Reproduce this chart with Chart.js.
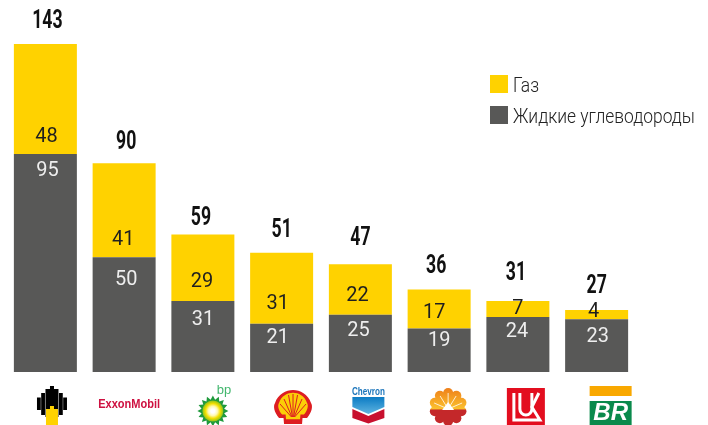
<!DOCTYPE html>
<html>
<head>
<meta charset="utf-8">
<script src="https://cdn.jsdelivr.net/npm/chart.js@4"></script>
<style>
  body { margin: 0; background: #fff; }
  canvas { display: block; }
</style>
</head>
<body>
<canvas id="reservesChart" width="708" height="425"></canvas>
<script>
const companies = ['Роснефть', 'ExxonMobil', 'bp', 'Shell', 'Chevron', 'PetroChina', 'ЛУКОЙЛ', 'Petrobras'];
const liquids = [95, 50, 31, 21, 25, 19, 24, 23];
const gas = [48, 41, 29, 31, 22, 17, 7, 4];
const totals = [143, 90, 59, 51, 47, 36, 31, 27];

// hand nudges so the labels sit where they do in the picture
const gasLift = [17, 18, 19, 20, 19, 16, 8, 7];
const gasShift = [1, -1, -1, -4, -3, -5, 0, -3];
const liquidDrop = [17, 22, 19, 14, 16, 12, 15, 18];
const liquidShift = [2, 2, 0, -4, -2, 0, -1, 1];
const totalLift = [22, 21, 16, 22, 26, 23, 27, 24];
const totalShift = [2, 2, -2, 0, 0, -3, -2, 0];
const logoShift = [6.6, 5, 10, 11.4, 8, 9, 8, 14];

const GAS_COLOR = '#FFD200';
const LIQUID_COLOR = '#585857';

// no condensed face is installed, so squeeze the text with maxWidth
function squeezedText(ctx, text, x, y, squeeze) {
    const label = String(text);
    ctx.fillText(label, x, y, ctx.measureText(label).width * squeeze);
}

function rect(ctx, color, x, y, w, h) {
    ctx.fillStyle = color;
    ctx.fillRect(x, y, w, h);
}

function poly(ctx, color, pts) {
    ctx.fillStyle = color;
    ctx.beginPath();
    pts.forEach((p, i) => i ? ctx.lineTo(p[0], p[1]) : ctx.moveTo(p[0], p[1]));
    ctx.closePath();
    ctx.fill();
}

function drawRosneft(ctx) {
    rect(ctx, '#000', -2, -21, 4, 4);
    rect(ctx, '#000', -6.5, -18, 13, 28);
    [-1, 1].forEach(s => {
        rect(ctx, '#000', s > 0 ? 7 : -10.8, -14, 3.8, 22);
        rect(ctx, '#000', s > 0 ? 11.2 : -15, -9.5, 3.8, 12.5);
    });
    rect(ctx, GAS_COLOR, -6, 2, 12, 16);
    rect(ctx, GAS_COLOR, -2, -1, 4, 3);
}

function drawExxon(ctx) {
    ctx.fillStyle = '#CE1141';
    ctx.font = 'bold 12px "Liberation Sans", sans-serif';
    ctx.textAlign = 'center';
    ctx.textBaseline = 'middle';
    ctx.fillText('ExxonMobil', 0, -2, 62);
}

function drawBp(ctx) {
    ctx.fillStyle = '#43B76E';
    ctx.font = '13px "Liberation Sans", sans-serif';
    ctx.textAlign = 'center';
    ctx.textBaseline = 'middle';
    ctx.fillText('bp', 11, -17);
    const pts = [];
    for (let i = 0; i < 32; i++) {
        const a = i * Math.PI / 16;
        const r = i % 2 ? 11.5 : 15.5;
        pts.push([Math.cos(a) * r, 4 + Math.sin(a) * r]);
    }
    poly(ctx, '#1F9A3C', pts);
    const sun = ctx.createRadialGradient(0, 4, 2, 0, 4, 11);
    sun.addColorStop(0, '#fff');
    sun.addColorStop(0.3, '#FFF9B0');
    sun.addColorStop(0.6, '#F5E000');
    sun.addColorStop(1, '#7DBB1F');
    ctx.fillStyle = sun;
    ctx.beginPath();
    ctx.arc(0, 4, 10.5, 0, Math.PI * 2);
    ctx.fill();
}

function shellPath(ctx, k) {
    ctx.beginPath();
    ctx.moveTo(-9 * k, 17 * k);
    ctx.lineTo(9 * k, 17 * k);
    ctx.lineTo(9.5 * k, 11 * k);
    ctx.lineTo(14 * k, 11 * k);
    ctx.bezierCurveTo(19 * k, 5 * k, 20 * k, -1 * k, 18 * k, -4 * k);
    ctx.bezierCurveTo(15 * k, -13 * k, 7 * k, -17 * k, 0, -17 * k);
    ctx.bezierCurveTo(-7 * k, -17 * k, -15 * k, -13 * k, -18 * k, -4 * k);
    ctx.bezierCurveTo(-20 * k, -1 * k, -19 * k, 5 * k, -14 * k, 11 * k);
    ctx.lineTo(-9.5 * k, 11 * k);
    ctx.closePath();
}

function drawShell(ctx) {
    ctx.fillStyle = '#DD1D21';
    shellPath(ctx, 1);
    ctx.fill();
    ctx.fillStyle = '#FBCE07';
    ctx.save();
    ctx.translate(0, -1);
    shellPath(ctx, 0.78);
    ctx.fill();
    ctx.restore();
    ctx.strokeStyle = '#DD1D21';
    ctx.lineWidth = 1;
    [[-13, -3], [-9, -8], [-4.5, -12], [0, -13], [4.5, -12], [9, -8], [13, -3]].forEach(p => {
        ctx.beginPath();
        ctx.moveTo(p[0] * 0.12, 10);
        ctx.lineTo(p[0], p[1]);
        ctx.stroke();
    });
}

function drawChevron(ctx) {
    ctx.fillStyle = '#1B75BB';
    ctx.font = 'bold 10px "Liberation Sans", sans-serif';
    ctx.textAlign = 'center';
    ctx.textBaseline = 'middle';
    ctx.fillText('Chevron', 0, -15, 33);
    const blue = ctx.createLinearGradient(0, -10, 0, 7);
    blue.addColorStop(0, '#0B7BC4');
    blue.addColorStop(1, '#5FB4E0');
    poly(ctx, blue, [[-16, -10], [16, -10], [16, 0], [0, 7], [-16, 0]]);
    poly(ctx, '#C8102E', [[-16, 2], [0, 9], [16, 2], [16, 11], [0, 16.5], [-16, 11]]);
}

function drawCnpc(ctx) {
    const fill = ctx.createLinearGradient(0, -19, 0, 18);
    fill.addColorStop(0, '#EE7F1A');
    fill.addColorStop(0.56, '#FBC02D');
    fill.addColorStop(0.6, '#C4282A');
    fill.addColorStop(1, '#C4282A');
    ctx.fillStyle = fill;
    ctx.beginPath();
    ctx.arc(0, 0, 15, 0, Math.PI * 2);
    ctx.fill();
    for (let i = 0; i < 10; i++) {
        const a = i * Math.PI / 5 + Math.PI / 10;
        ctx.beginPath();
        ctx.arc(Math.cos(a) * 14, Math.sin(a) * 14, 5, 0, Math.PI * 2);
        ctx.fill();
    }
    ctx.strokeStyle = '#fff';
    ctx.lineWidth = 0.8;
    [[-14, -4], [-8, -11], [0, -14], [8, -11], [14, -4]].forEach(p => {
        ctx.beginPath();
        ctx.moveTo(0, 2);
        ctx.lineTo(p[0], p[1]);
        ctx.stroke();
    });
    poly(ctx, '#fff', [[-6, 3], [0, -5], [6, 3]]);
}

function drawLukoil(ctx) {
    rect(ctx, '#E30E1F', -19, -19, 38, 37);
    ctx.strokeStyle = '#fff';
    ctx.lineWidth = 3;
    ctx.beginPath();
    ctx.moveTo(-12, -14);
    ctx.lineTo(-12, 13);
    ctx.lineTo(14, 13);
    ctx.lineTo(6, 0);
    ctx.lineTo(13, -14);
    ctx.stroke();
    ctx.beginPath();
    ctx.moveTo(-6, -14);
    ctx.lineTo(-6, 2);
    ctx.arc(0, 2, 6, Math.PI, 0, true);
    ctx.lineTo(6, -14);
    ctx.stroke();
}

function drawPetrobras(ctx) {
    rect(ctx, '#F9A800', -21, -21, 42, 10);
    rect(ctx, '#0A8A4C', -21, -6, 42, 24);
    ctx.fillStyle = '#fff';
    ctx.font = 'italic bold 24px "Liberation Sans", sans-serif';
    ctx.textAlign = 'center';
    ctx.textBaseline = 'middle';
    ctx.fillText('BR', 0, 6);
}

const logoPainters = [drawRosneft, drawExxon, drawBp, drawShell, drawChevron, drawCnpc, drawLukoil, drawPetrobras];

const reservesLabels = {
    id: 'reservesLabels',
    afterDatasetsDraw(chart) {
        const ctx = chart.ctx;
        const liquidBars = chart.getDatasetMeta(0).data;
        const gasBars = chart.getDatasetMeta(1).data;
        ctx.save();
        ctx.textAlign = 'center';
        ctx.textBaseline = 'middle';
        companies.forEach((name, i) => {
            ctx.font = '400 21px Roboto, sans-serif';
            ctx.fillStyle = '#eeeeee';
            squeezedText(ctx, liquids[i], liquidBars[i].x + liquidShift[i], liquidBars[i].y + liquidDrop[i], 0.95);
            ctx.fillStyle = '#1f1f1f';
            squeezedText(ctx, gas[i], gasBars[i].x + gasShift[i], gasBars[i].base - gasLift[i], 0.95);
            ctx.font = 'bold 26px Roboto, sans-serif';
            ctx.fillStyle = '#111';
            squeezedText(ctx, totals[i], gasBars[i].x + totalShift[i], gasBars[i].y - totalLift[i], 0.68);
        });
        ctx.restore();
    }
};

const reservesLogos = {
    id: 'reservesLogos',
    afterDraw(chart) {
        const ctx = chart.ctx;
        const x = chart.scales.x;
        logoPainters.forEach((paint, i) => {
            ctx.save();
            ctx.translate(x.getPixelForValue(i) + logoShift[i], chart.chartArea.bottom + 35);
            paint(ctx);
            ctx.restore();
        });
    }
};

// legend sits inside the plot at the top right, so it is drawn by hand
const reservesLegend = {
    id: 'reservesLegend',
    afterDraw(chart) {
        const ctx = chart.ctx;
        ctx.save();
        ctx.font = '300 21px Roboto, sans-serif';
        ctx.textAlign = 'left';
        ctx.textBaseline = 'middle';
        [1, 0].forEach((index, row) => {
            const dataset = chart.data.datasets[index];
            const top = 75 + row * 31;
            ctx.fillStyle = dataset.backgroundColor;
            ctx.fillRect(490, top, 18, 18);
            ctx.fillStyle = '#222';
            squeezedText(ctx, dataset.label, 513, top + 12, 0.83);
        });
        ctx.restore();
    }
};

new Chart(document.getElementById('reservesChart'), {
    type: 'bar',
    data: {
        labels: companies,
        datasets: [
            { label: 'Жидкие углеводороды', data: liquids, backgroundColor: LIQUID_COLOR },
            { label: 'Газ', data: gas, backgroundColor: GAS_COLOR }
        ]
    },
    options: {
        responsive: false,
        animation: false,
        layout: { padding: { left: 6, right: 72, top: 5, bottom: 53 } },
        datasets: { bar: { barPercentage: 0.8, categoryPercentage: 1 } },
        scales: {
            x: { stacked: true, display: false },
            y: { stacked: true, display: false, min: 0, max: 160 }
        },
        plugins: {
            legend: { display: false },
            tooltip: { enabled: false }
        }
    },
    plugins: [reservesLabels, reservesLogos, reservesLegend]
});
</script>
</body>
</html>
